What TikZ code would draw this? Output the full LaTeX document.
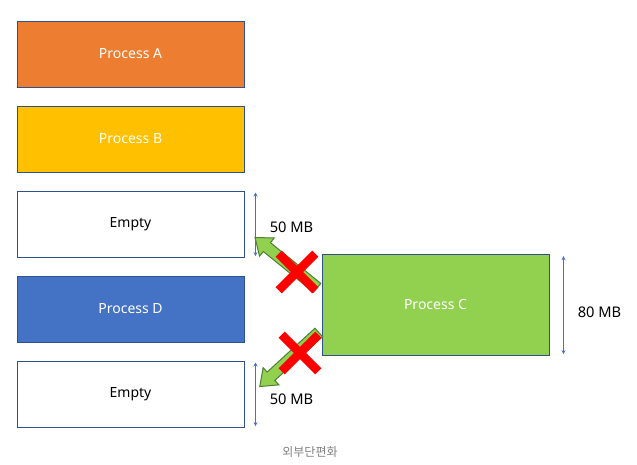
\documentclass[tikz,border=0pt]{standalone}
\usepackage{fontspec}
\setmainfont{Noto Sans}
\newfontfamily\krfont{Noto Sans CJK KR}
\usetikzlibrary{positioning,shapes.arrows,shapes.misc,arrows.meta}
\definecolor{edgeblue}{HTML}{2F528F}
\definecolor{dimblue}{HTML}{4472C4}
\definecolor{procA}{HTML}{ED7D31}
\definecolor{procB}{HTML}{FFC000}
\definecolor{procC}{HTML}{92D050}
\definecolor{procD}{HTML}{4472C4}
\definecolor{moveedge}{HTML}{507E32}
\begin{document}
\begin{tikzpicture}[
  x=0.75pt, y=-0.75pt,
  every node/.style={font=\fontsize{10.5}{12}\selectfont},
  box/.style={rectangle, draw=edgeblue, line width=0.75pt, text=white,
              minimum width=170.25pt, minimum height=49.5pt, align=center},
  free/.style={box, fill=white, text=black},
  dim/.style={{Stealth[length=3pt,width=3pt]}-{Stealth[length=3pt,width=3pt]},
              draw=dimblue, line width=0.75pt},
  size/.style={right=7pt, font=\fontsize{11}{13}\selectfont},
  move/.style={single arrow, draw=moveedge, fill=procC, line width=0.75pt,
               inner sep=3.9pt, single arrow head extend=4.5pt,
               single arrow tip angle=75, minimum height=60pt},
  nogo/.style={cross out, draw=red, line width=6.5pt, minimum size=21pt, inner sep=0pt}
]
  \useasboundingbox (0,0) rectangle (637,465);
  % memory blocks
  \node[box, fill=procA] (a) at (130.5,54) {Process A};
  \node[box, fill=procB, below=13.5pt of a] (b) {Process B};
  \node[free, below=13.5pt of b] (e1) {Empty};
  \node[box, fill=procD, below=13.5pt of e1] (d) {Process D};
  \node[free, below=13.5pt of d] (e2) {Empty};
  \node[box, fill=procC, minimum height=75.75pt] (c) at (435.5,304.5) {Process C};
  % sizes
  \draw[dim] ([xshift=8.25pt,yshift=-1.5pt]e1.north east) -- node[size, pos=0.55] {50 MB}
             ([xshift=8.25pt,yshift=1pt]e1.south east);
  \draw[dim] ([xshift=8.25pt,yshift=-1.5pt]e2.north east) -- node[size, pos=0.57] {50 MB}
             ([xshift=8.25pt,yshift=1pt]e2.south east);
  \draw[dim] ([xshift=10.5pt,yshift=-2pt]c.north east) -- node[size, pos=0.57] {80 MB}
             ([xshift=10.5pt,yshift=1pt]c.south east);
  % failed moves
  \node[move, rotate=141] (m1) at (289,265) {};
  \node[move, rotate=222.5] (m2) at (292,357) {};
  \node[nogo] (x1) at (297,272) {};
  \node[nogo] (x2) at (300,353) {};
  \node[font=\krfont\fontsize{9}{11}\selectfont, text=black!50] (cap) at (310,452) {외부단편화};
\end{tikzpicture}
\end{document}
